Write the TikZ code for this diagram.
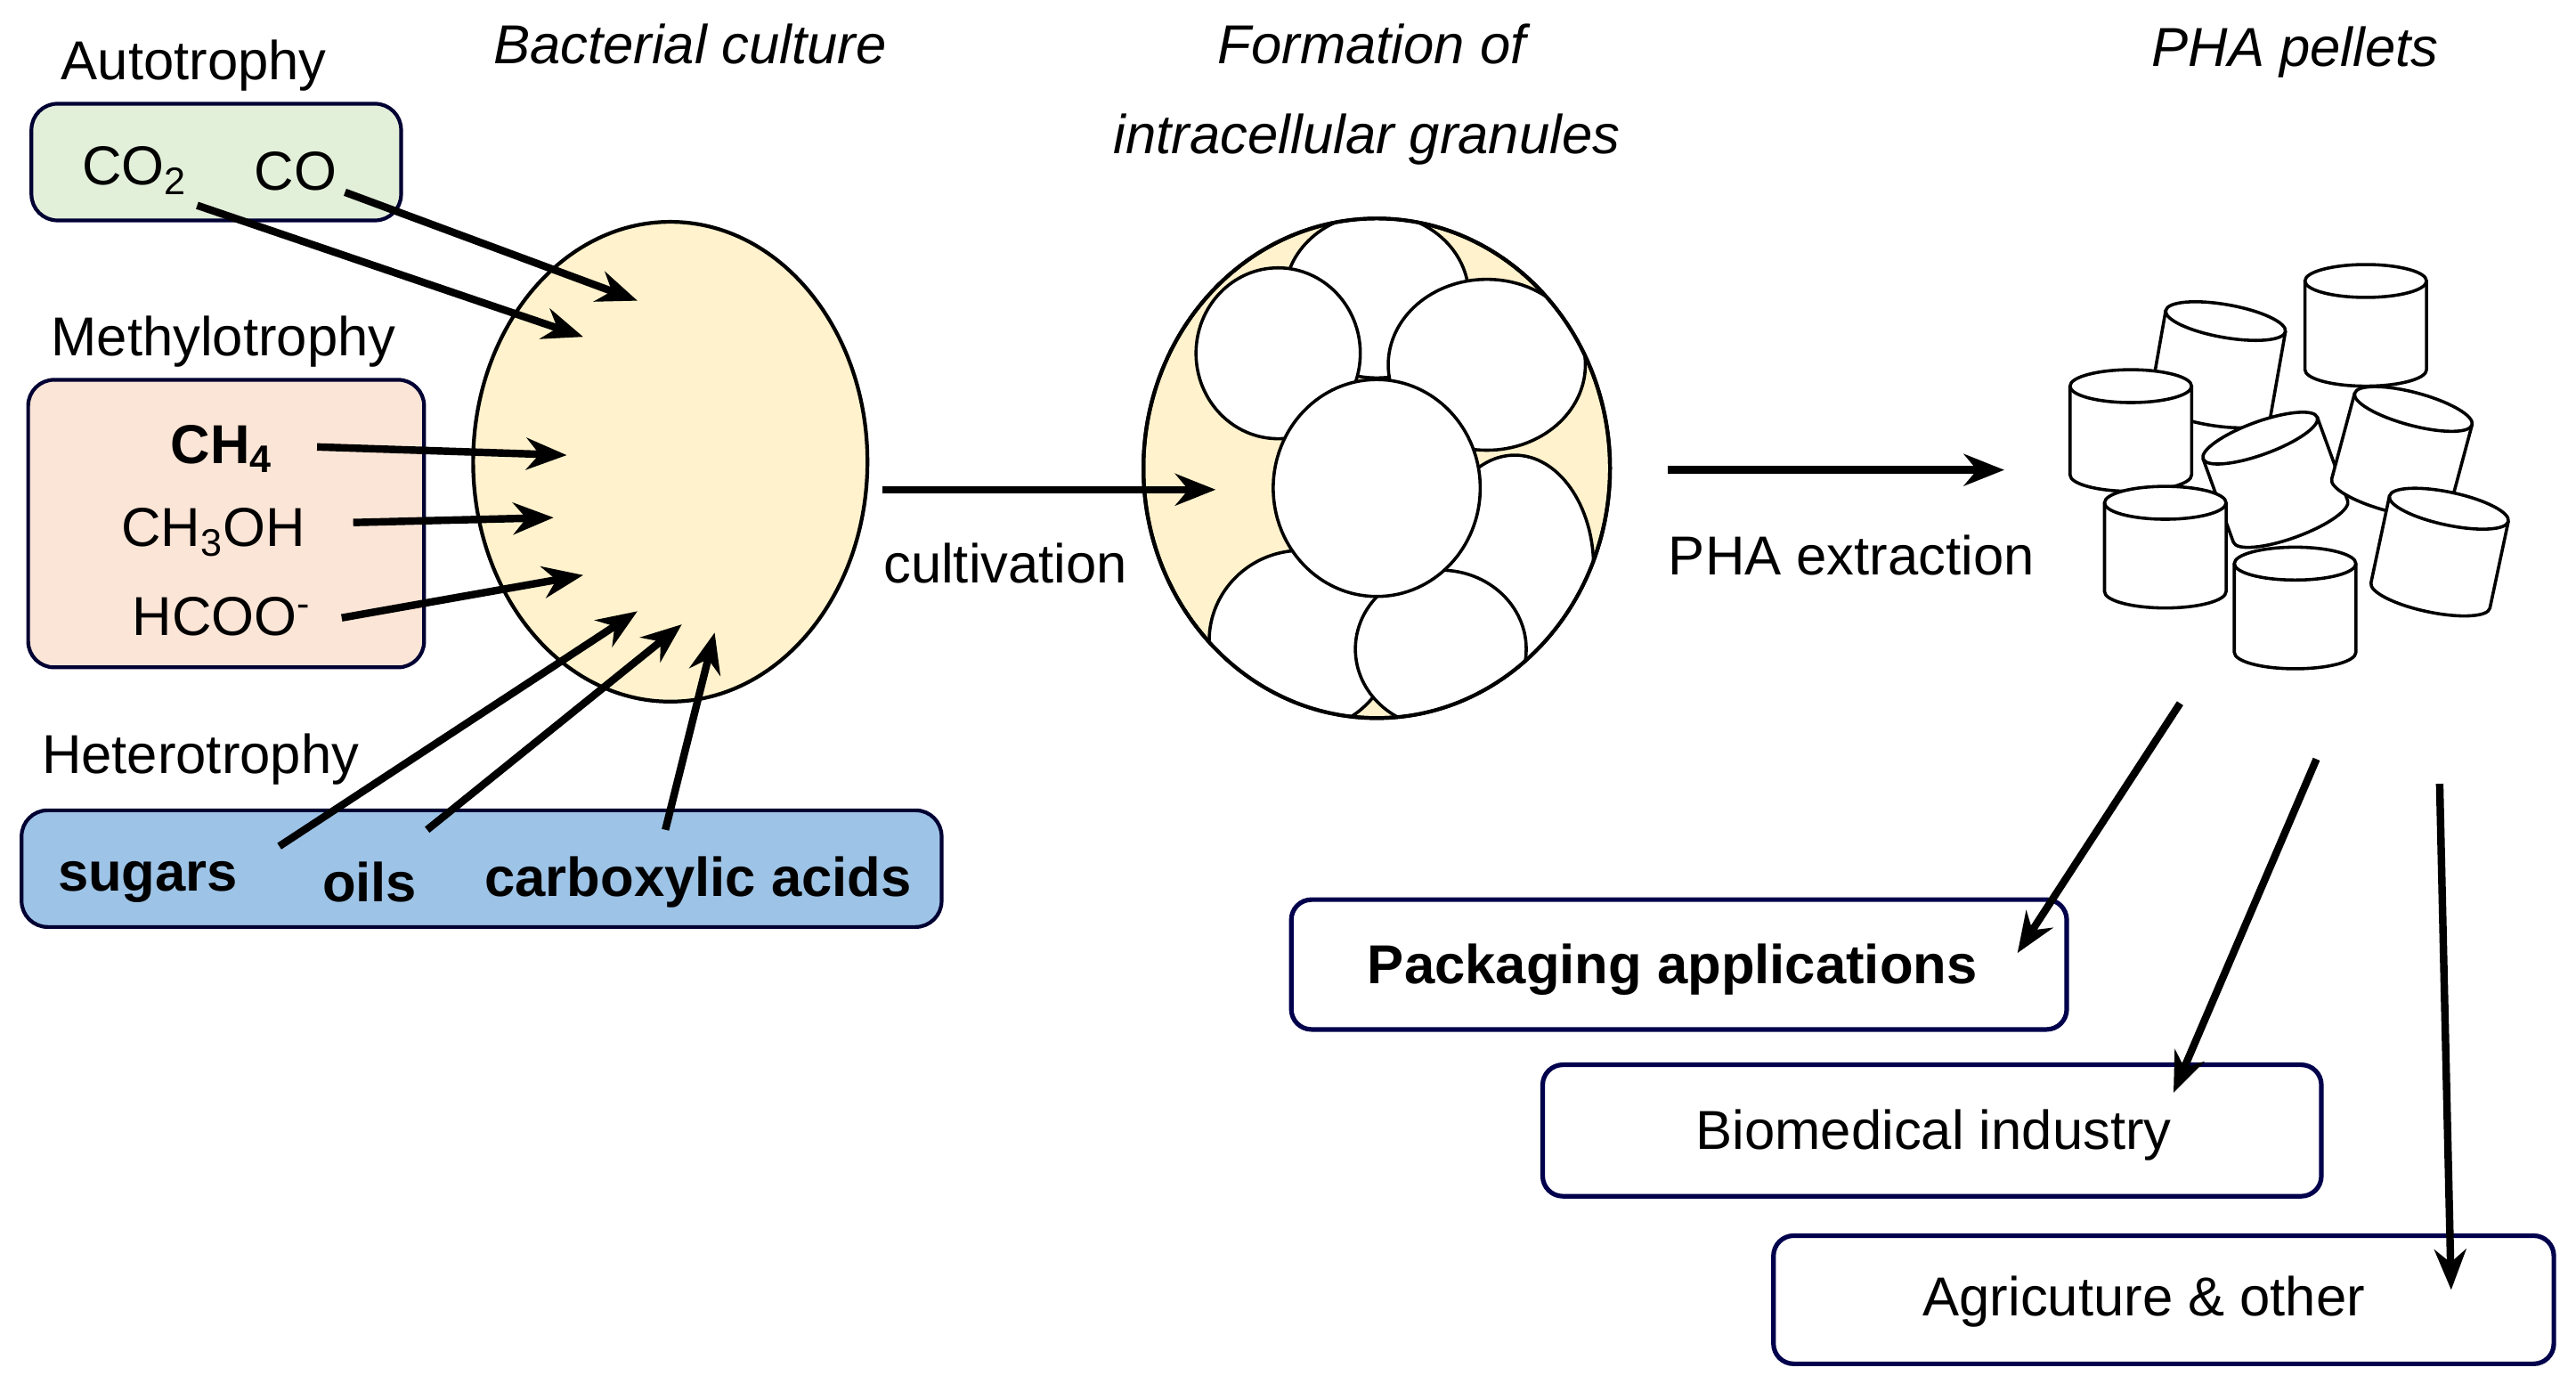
\documentclass[tikz,border=0pt]{standalone}
\usepackage{fontspec}
\setmainfont{Liberation Sans}
\usetikzlibrary{shapes.geometric,arrows.meta}
\definecolor{cellc}{HTML}{FFF2CC}
\definecolor{hetc}{HTML}{9DC3E6}
\definecolor{autc}{HTML}{E2EFD9}
\definecolor{metc}{HTML}{FBE5D6}
\begin{document}
\begin{tikzpicture}[x=0.02cm,y=-0.02cm,
 lab/.style={font=\fontsize{19}{22}\selectfont},
 blab/.style={font=\fontsize{19}{22}\selectfont\bfseries},
 ttl/.style={font=\fontsize{19}{22}\selectfont\itshape},
 src/.style={draw=black!80!blue,line width=1.3pt,rounded corners=9pt},
 arr/.style={line width=2.6pt,-{Stealth[length=14pt,width=11pt]}},
 outbox/.style={draw=black!70!blue,line width=1.6pt,rounded corners=7pt,fill=white},
 gran/.style={draw=black,line width=1.1pt,fill=white},
 pics/pellet/.style={code={
   \draw[fill=white,line width=1.1pt] (-37,-27) -- (-37,27) arc[start angle=180,end angle=0,x radius=37,y radius=10] -- (37,-27);
   \draw[fill=white,line width=1.1pt] (0,-27) ellipse[x radius=37,y radius=10];
 }}]
\path (0,0) rectangle (1568,847);
% source boxes
\node[src,fill=autc,minimum width=225*0.02cm,minimum height=71*0.02cm,anchor=north west] (auto) at (18,62) {};
\node[lab] (autol) at (118,40) {Autotrophy};
\node[lab] (co2) at (82,104) {CO\textsubscript{2}};
\node[lab] (co) at (180,104) {CO};
\node[src,fill=metc,minimum width=241*0.02cm,minimum height=175*0.02cm,anchor=north west] (meth) at (16,230) {};
\node[lab] (methl) at (136,208) {Methylotrophy};
\node[blab] (ch4) at (135,273) {CH\textsubscript{4}};
\node[lab] (ch3oh) at (130,324) {CH\textsubscript{3}OH};
\node[lab] (hcoo) at (135,375) {HCOO\textsuperscript{-}};
\node[src,fill=hetc,minimum width=560*0.02cm,minimum height=71*0.02cm,anchor=north west] (het) at (12,492) {};
\node[lab] (hetl) at (122,462) {Heterotrophy};
\node[blab] (sug) at (90,537) {sugars};
\node[blab] (oil) at (225,537) {oils};
\node[blab] (carb) at (425,537) {carboxylic acids};
% cell
\node[draw,line width=1.3pt,fill=cellc,ellipse,minimum width=240*0.02cm,minimum height=292*0.02cm,inner sep=0] (cell) at (408,281) {};
\node[ttl] (bct) at (420,27) {Bacterial culture};
\coordinate (a1s) at (120,125); \coordinate (a1e) at (355,205);
\coordinate (a2s) at (210,117); \coordinate (a2e) at (388,183);
\coordinate (a3s) at (193,272); \coordinate (a3e) at (345,277);
\coordinate (a4s) at (215,318); \coordinate (a4e) at (337,315);
\coordinate (a5s) at (208,376); \coordinate (a5e) at (355,350);
\coordinate (a6s) at (170,515); \coordinate (a6e) at (388,372);
\coordinate (a7s) at (260,505); \coordinate (a7e) at (415,380);
\coordinate (a8s) at (405,505); \coordinate (a8e) at (435,385);
\foreach \i in {1,...,8} \draw[arr] (a\i s) -- (a\i e);
% granule cell
\node[draw,line width=1.3pt,fill=cellc,ellipse,minimum width=284*0.02cm,minimum height=304*0.02cm,inner sep=0] (gcell) at (838,285) {};
\begin{scope}
\clip (838,285) ellipse[x radius=141,y radius=151];
\draw[gran] (838,180) ellipse[x radius=56,y radius=50];
\draw[gran] (778,215) ellipse[x radius=50,y radius=52];
\draw[gran] (905,222) ellipse[x radius=60,y radius=52];
\draw[gran] (922,345) ellipse[x radius=48,y radius=68];
\draw[gran] (792,390) ellipse[x radius=56,y radius=55];
\draw[gran] (877,395) ellipse[x radius=52,y radius=48];
\draw[gran] (838,297) ellipse[x radius=63,y radius=66];
\end{scope}
\draw[line width=1.3pt] (gcell.center) ellipse[x radius=142,y radius=152];
\node[ttl] (f1) at (835,27) {Formation of};
\node[ttl] (f2) at (832,85) {intracellular granules};
% cultivation
\coordinate (c1) at (537,298); \coordinate (c2) at (740,298);
\draw[arr] (c1) -- (c2);
\node[lab] (cultl) at (612,343) {cultivation};
% extraction
\coordinate (e1) at (1015,286); \coordinate (e2) at (1220,286);
\draw[arr] (e1) -- (e2);
\node[lab] (extl) at (1127,338) {PHA extraction};
\node[ttl] (phat) at (1397,32) {PHA pellets};
% pellets
\pic[rotate=-10] at (1350,222) {pellet};
\pic at (1440,198) {pellet};
\pic at (1297,262) {pellet};
\pic[rotate=20] at (1385,292) {pellet};
\pic[rotate=-15] at (1462,275) {pellet};
\pic at (1318,333) {pellet};
\pic[rotate=-12] at (1485,336) {pellet};
\pic at (1397,370) {pellet};
% outputs
\node[outbox,minimum width=472*0.02cm,minimum height=79*0.02cm] (pack) at (1022,587) {};
\node[blab] (packl) at (1018,590) {Packaging applications};
\node[outbox,minimum width=474*0.02cm,minimum height=80*0.02cm] (bio) at (1176,688) {};
\node[lab] (biol) at (1177,691) {Biomedical industry};
\node[outbox,minimum width=475*0.02cm,minimum height=78*0.02cm] (agr) at (1317,791) {};
\node[lab] (agrl) at (1305,792) {Agricuture \& other};
\coordinate (o1s) at (1327,428); \coordinate (o1e) at (1228,580);
\coordinate (o2s) at (1410,462); \coordinate (o2e) at (1323,665);
\coordinate (o3s) at (1485,477); \coordinate (o3e) at (1492,785);
\foreach \i in {1,2,3} \draw[arr] (o\i s) -- (o\i e);
\end{tikzpicture}
\end{document}
